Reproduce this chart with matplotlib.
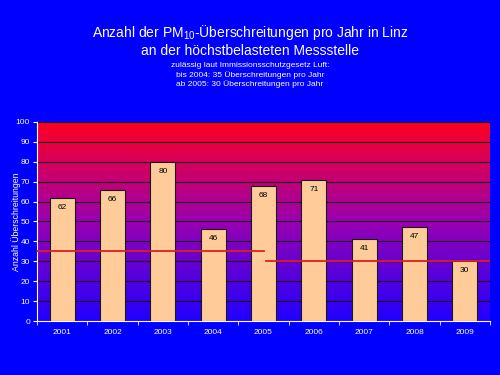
import numpy as np
import matplotlib
matplotlib.use("Agg")
import matplotlib.pyplot as plt
from matplotlib.colors import LinearSegmentedColormap

plt.rcParams['font.family'] = ['Liberation Sans', 'DejaVu Sans']
plt.rcParams['mathtext.fontset'] = 'custom'
plt.rcParams['mathtext.rm'] = 'Liberation Sans'
plt.rcParams['mathtext.it'] = 'Liberation Sans'

years = ['2001', '2002', '2003', '2004', '2005', '2006', '2007', '2008', '2009']
exceedances = [62, 66, 80, 46, 68, 71, 41, 47, 30]
limit_until_2004 = 35
limit_from_2005 = 30

BG = '#0000ff'

fig = plt.figure(figsize=(5, 3.75), dpi=100, facecolor=BG)
ax = fig.add_axes([0.074, 0.144, 0.906, 0.531])
ax.set_facecolor(BG)

x = np.arange(len(years))

# gradient background red (top) -> blue (bottom)
cmap = LinearSegmentedColormap.from_list('grad', ['#2000ff', '#9a00b0', '#ff0020'])
grad = np.linspace(0, 1, 256).reshape(-1, 1)
ax.imshow(grad, cmap=cmap, aspect='auto', origin='lower',
          extent=[-0.5, len(years) - 0.5, 0, 100], zorder=0)

# gridlines behind the bars
for yv in range(10, 101, 10):
    ax.axhline(yv, color='#200020', linewidth=0.8, zorder=1)

ax.bar(x, exceedances, width=0.5, color='#ffcc99', edgecolor='#1a1a1a',
       linewidth=0.8, zorder=2)
for xi, v in zip(x, exceedances):
    ax.text(xi, v - 3, str(v), ha='center', va='top', fontsize=6, color='black', zorder=4)

# limit lines
ax.plot([-0.5, 4.0], [limit_until_2004] * 2, color='#dd2020', linewidth=1.3, zorder=3)
ax.plot([4.05, len(years) - 0.5], [limit_from_2005] * 2, color='#dd2020', linewidth=1.3, zorder=3)

ax.set_xlim(-0.5, len(years) - 0.5)
ax.set_ylim(0, 100)
ax.set_yticks(range(0, 101, 10))
ax.set_xticks(x)
ax.set_xticklabels(years)
ax.set_xticks(np.arange(-0.5, len(years), 1), minor=True)
ax.tick_params(axis='x', which='major', length=0, colors='white', labelsize=6, pad=6)
ax.tick_params(axis='x', which='minor', length=3, color='white', direction='out')
ax.tick_params(axis='y', length=3, colors='white', labelsize=6, pad=2)

for side in ['top', 'right']:
    ax.spines[side].set_visible(False)
ax.spines['left'].set_color('white')
ax.spines['bottom'].set_color('white')

ax.set_ylabel('Anzahl Überschreitungen', color='white', fontsize=6.3)
ax.yaxis.set_label_coords(-0.036, 0.5)

fig.text(0.5, 0.912, 'Anzahl der PM$_{10}$-Überschreitungen pro Jahr in Linz',
         ha='center', va='center', color='white', fontsize=10)
fig.text(0.5, 0.865, 'an der höchstbelasteten Messstelle',
         ha='center', va='center', color='white', fontsize=10)
fig.text(0.5, 0.834, 'zulässig laut Immissionsschutzgesetz Luft:\nbis 2004: 35 Überschreitungen pro Jahr\nab 2005: 30 Überschreitungen pro Jahr',
         ha='center', va='top', color='white', fontsize=6, linespacing=1.25)

fig.savefig('out.png', dpi=100, facecolor=BG)
